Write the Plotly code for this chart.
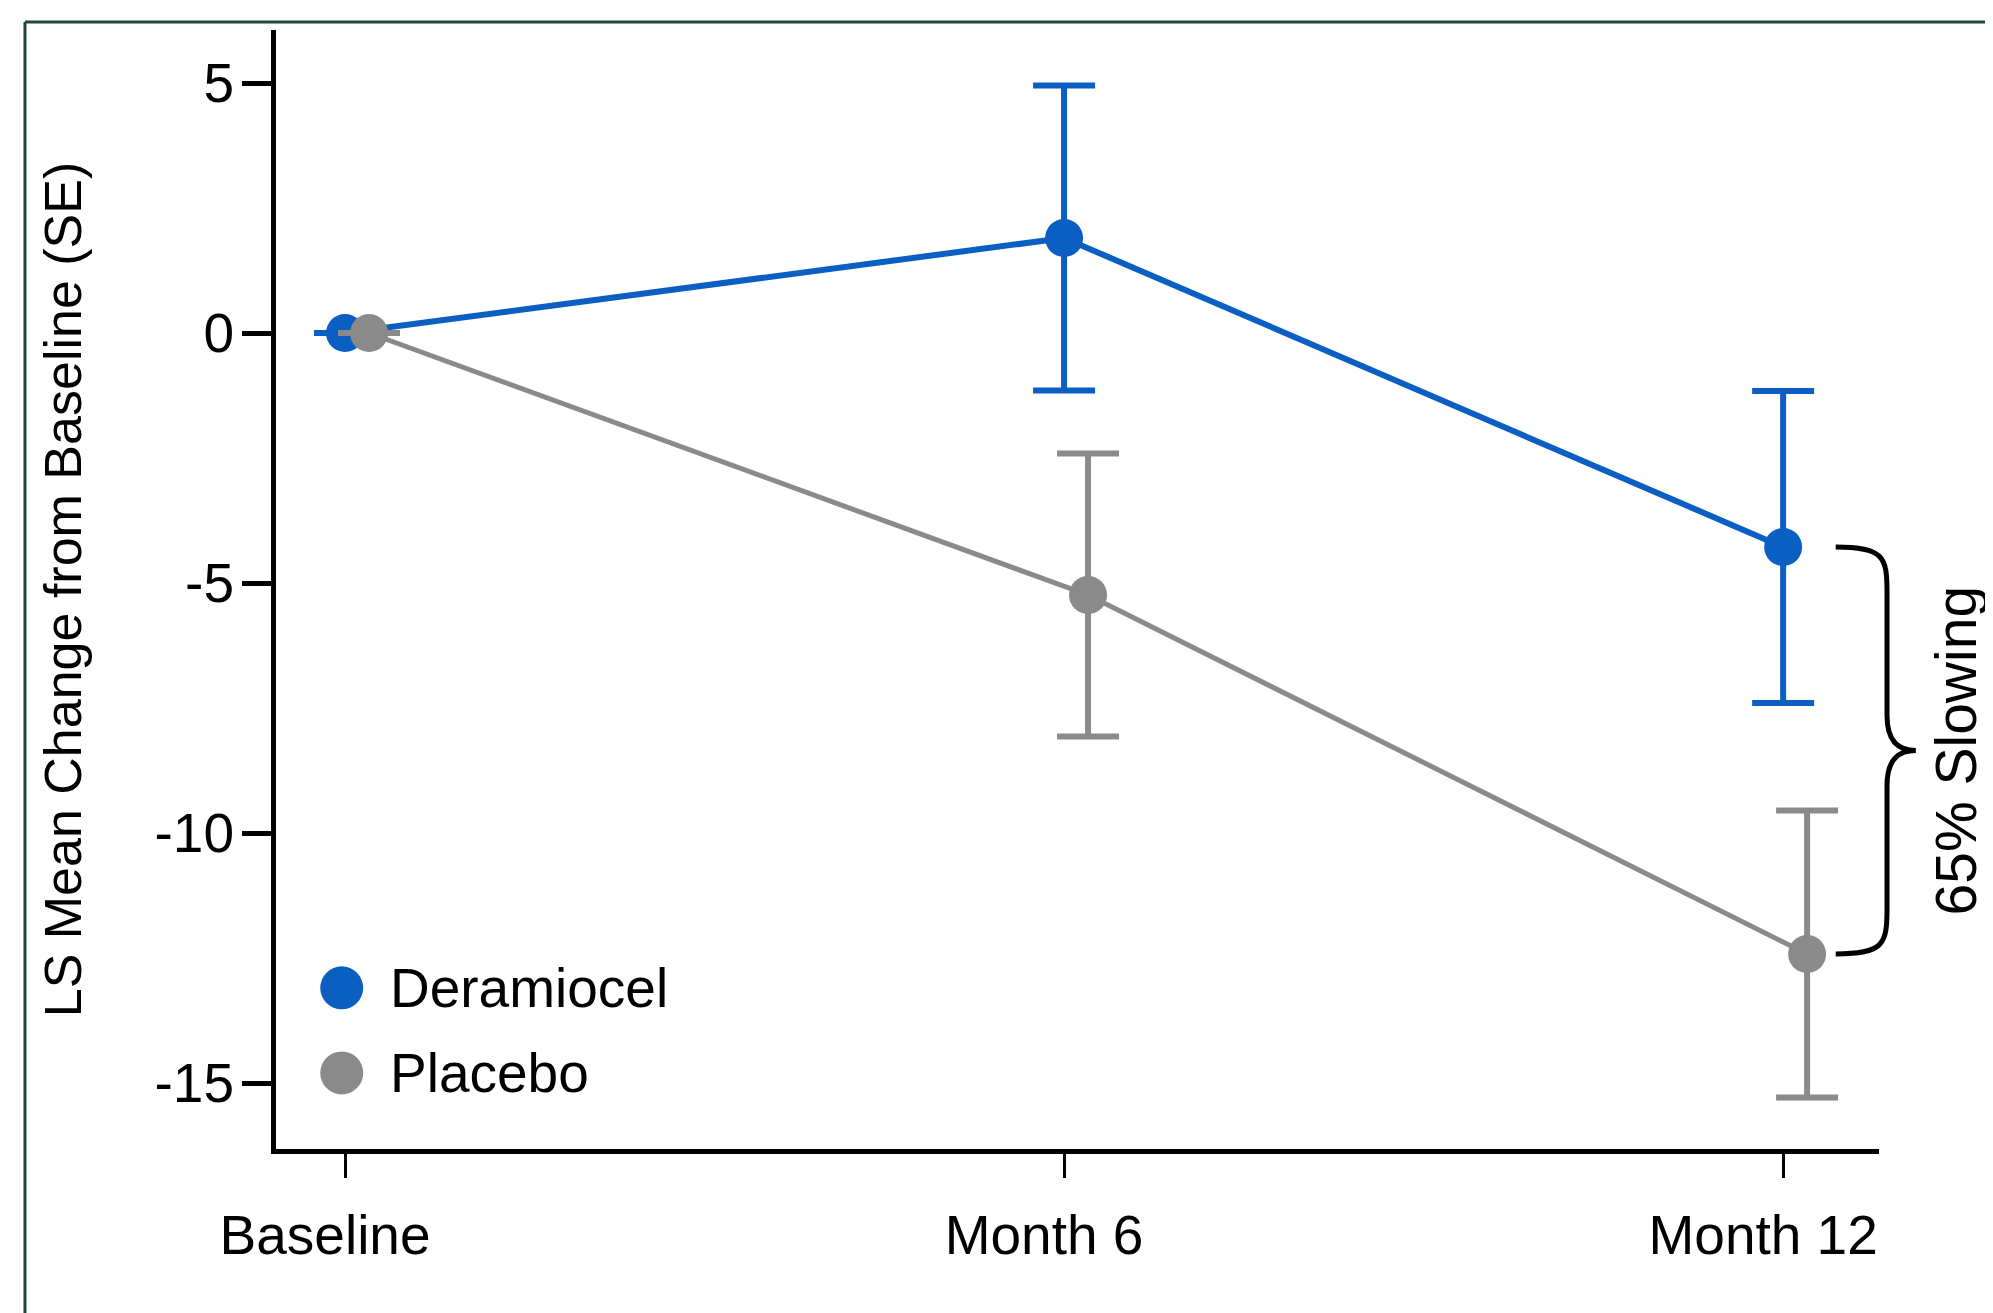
import plotly.graph_objects as go

# ---- data ----
timepoints = ["Baseline", "Month 6", "Month 12"]
months = [0, 6, 12]
deramiocel_mean = [0.0, 1.90, -4.28]
deramiocel_se = [0.0, 3.05, 3.12]
placebo_mean = [0.0, -5.24, -12.42]
placebo_se = [0.0, 2.83, 2.87]
slowing_label = "65% Slowing"
y_ticks = [5, 0, -5, -10, -15]
y_tick_labels = ["5", "0", "-5", "-10", "-15"]

DODGE = 0.2
BLUE = "#0b5fc2"
GRAY = "#8a8a8a"
FONT = "Arial, Liberation Sans, sans-serif"

fig = go.Figure()
fig.add_trace(go.Scatter(
    x=months, y=deramiocel_mean, name="Deramiocel", mode="lines+markers",
    line=dict(color=BLUE, width=6),
    marker=dict(color=BLUE, size=38),
    error_y=dict(type="data", array=deramiocel_se, visible=True,
                 color=BLUE, thickness=6, width=31),
    showlegend=False,
))
fig.add_trace(go.Scatter(
    x=[m + DODGE for m in months], y=placebo_mean, name="Placebo", mode="lines+markers",
    line=dict(color=GRAY, width=5),
    marker=dict(color=GRAY, size=38),
    error_y=dict(type="data", array=placebo_se, visible=True,
                 color=GRAY, thickness=6, width=31),
    showlegend=False,
))

# manual legend (large symbols)
legend_items = [("Deramiocel", BLUE, 0.144), ("Placebo", GRAY, 0.068)]
shapes = []
annotations = []
for name, col, ly in legend_items:
    shapes.append(dict(type="circle", xref="paper", yref="paper",
                       xsizemode="pixel", ysizemode="pixel",
                       xanchor=0.041, yanchor=ly, x0=-21.5, x1=21.5, y0=-21.5, y1=21.5,
                       fillcolor=col, line=dict(width=0)))
    annotations.append(dict(xref="paper", yref="paper", x=0.070, y=ly, text=name,
                            showarrow=False, xanchor="left", yanchor="middle",
                            font=dict(family=FONT, size=55, color="black")))

# curly brace between Month-12 values
yt = deramiocel_mean[-1]
yb = placebo_mean[-1]
ym = (yt + yb) / 2
xt, xb, xp = 0.973, 1.005, 1.023
brace = (f"M {xt},{yt} C {xb-0.002},{yt} {xb},{yt-0.2} {xb},{yt-0.9} "
         f"L {xb},{ym+0.7} C {xb},{ym+0.15} {xb+0.008},{ym} {xp},{ym} "
         f"C {xb+0.008},{ym} {xb},{ym-0.15} {xb},{ym-0.7} "
         f"L {xb},{yb+0.9} C {xb},{yb+0.2} {xb-0.002},{yb} {xt},{yb}")
shapes.append(dict(type="path", xref="paper", yref="y", path=brace,
                   line=dict(color="black", width=5)))
annotations.append(dict(xref="paper", yref="y", x=1.048, y=ym, text=slowing_label,
                        textangle=-90, showarrow=False, xanchor="center", yanchor="middle",
                        font=dict(family=FONT, size=57, color="black")))

# outer frame (left + top edges)
frame_col = "#1e4a3c"
shapes.append(dict(type="line", xref="paper", yref="paper", x0=-0.1566, x1=-0.1566,
                   y0=1.0072, y1=-0.5, line=dict(color=frame_col, width=3)))
shapes.append(dict(type="line", xref="paper", yref="paper", x0=-0.1566, x1=1.5,
                   y0=1.0072, y1=1.0072, line=dict(color=frame_col, width=3)))

fig.update_layout(
    width=1993, height=1313,
    margin=dict(l=268, r=122, t=22, b=172),
    paper_bgcolor="white", plot_bgcolor="white",
    font=dict(family=FONT, size=55, color="black"),
    shapes=shapes, annotations=annotations,
)
fig.update_xaxes(
    range=[-0.576, 12.8], tickvals=months, ticktext=timepoints,
    showline=True, linecolor="black", linewidth=5, ticks="outside", ticklen=24,
    tickwidth=3, tickcolor="black", showgrid=False, zeroline=False,
    tickfont=dict(size=55), ticklabelstandoff=10, ticklabelshift=-20,
)
fig.update_yaxes(
    range=[-16.32, 6.06], tickvals=y_ticks, ticktext=y_tick_labels,
    showline=True, linecolor="black", linewidth=5, ticks="outside", ticklen=29,
    tickwidth=5, tickcolor="black", showgrid=False, zeroline=False,
    tickfont=dict(size=55), ticklabelstandoff=-3,
    title=dict(text="LS Mean Change from Baseline (SE)", font=dict(size=52), standoff=58),
)
fig.write_html("out.html")
